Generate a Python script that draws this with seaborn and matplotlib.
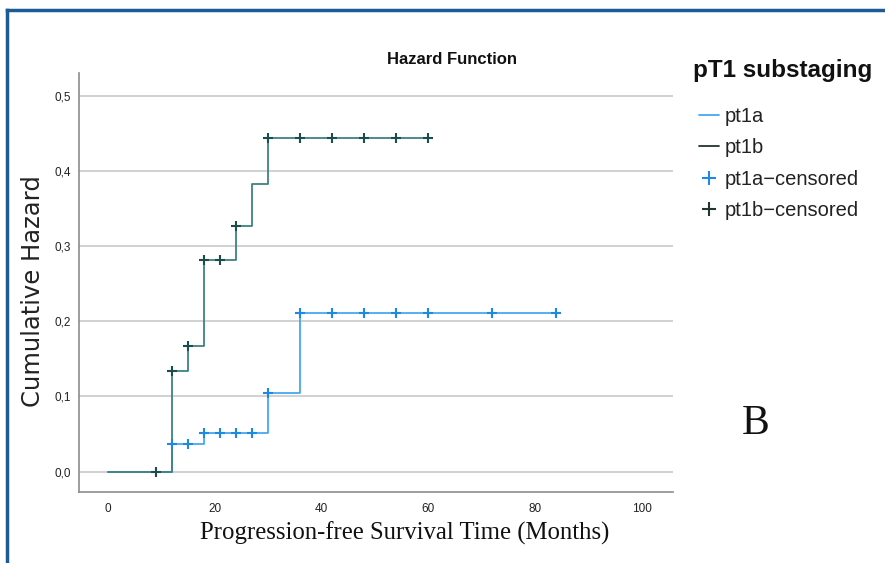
import numpy as np
import pandas as pd
import matplotlib
matplotlib.use("Agg")
import matplotlib.pyplot as plt
from matplotlib.lines import Line2D
import seaborn as sns

# ---- data ----
times_a = [0, 12, 18, 30, 36, 84]
haz_a = [0.0, 0.037, 0.052, 0.105, 0.211, 0.211]
times_b = [0, 12, 15, 18, 24, 27, 30, 60]
haz_b = [0.0, 0.134, 0.167, 0.281, 0.327, 0.383, 0.444, 0.444]
cens_t_a = [12, 15, 18, 21, 24, 27, 30, 36, 42, 48, 54, 60, 72, 84]
cens_h_a = [0.037, 0.037, 0.052, 0.052, 0.052, 0.052, 0.105, 0.211, 0.211, 0.211, 0.211, 0.211, 0.211, 0.211]
cens_t_b = [9, 12, 15, 18, 21, 24, 30, 36, 42, 48, 54, 60]
cens_h_b = [0.0, 0.134, 0.167, 0.281, 0.281, 0.327, 0.444, 0.444, 0.444, 0.444, 0.444, 0.444]
x_ticks = [0, 20, 40, 60, 80, 100]
y_ticks = [0.0, 0.1, 0.2, 0.3, 0.4, 0.5]
y_ticklabels = ["0,0", "0,1", "0,2", "0,3", "0,4", "0,5"]
legend_labels = ["pt1a", "pt1b", "pt1a\u2212censored", "pt1b\u2212censored"]

col_a_line = "#45A8F0"
col_a_mark = "#1E88E5"
col_b_line = "#3E8282"
col_b_mark = "#1C4D4D"
col_b_leg = "#22352F"

sns.set_theme(style="white")
plt.rcParams["font.family"] = ["Liberation Sans", "DejaVu Sans"]

fig = plt.figure(figsize=(8.85, 5.63), dpi=100)
ax = fig.add_axes([79 / 885, 1 - 492 / 563, (673 - 79) / 885, (492 - 73) / 563])

df_a = pd.DataFrame({"t": times_a, "h": haz_a})
df_b = pd.DataFrame({"t": times_b, "h": haz_b})
sns.lineplot(data=df_a, x="t", y="h", ax=ax, color=col_a_line, lw=1.3,
             drawstyle="steps-post", estimator=None, sort=False, zorder=3)
sns.lineplot(data=df_b, x="t", y="h", ax=ax, color=col_b_line, lw=1.3,
             drawstyle="steps-post", estimator=None, sort=False, zorder=4)
sns.scatterplot(x=cens_t_a, y=cens_h_a, ax=ax, marker="+", s=45,
                color=col_a_mark, linewidth=1.5, zorder=5)
sns.scatterplot(x=cens_t_b, y=cens_h_b, ax=ax, marker="+", s=45,
                color=col_b_mark, linewidth=1.5, zorder=6)

ax.set_xlim(-5.4, 105.9)
ax.set_ylim(-0.027, 0.530)
ax.set_xticks(x_ticks)
ax.set_xticklabels([str(v) for v in x_ticks])
ax.set_yticks(y_ticks)
ax.set_yticklabels(y_ticklabels)
ax.tick_params(axis="both", length=0, labelsize=8.5, colors="#222222")
ax.tick_params(axis="x", pad=8)
ax.tick_params(axis="y", pad=6)
ax.yaxis.grid(True, color="#C9C9C9", lw=1.2)
ax.xaxis.grid(False)
for s in ["top", "right"]:
    ax.spines[s].set_visible(False)
for s in ["left", "bottom"]:
    ax.spines[s].set_color("#8C8C8C")
    ax.spines[s].set_linewidth(1.2)
ax.set_xlabel("")
ax.set_ylabel("")

# titles / labels
fig.text(452 / 885, 1 - 60 / 563, "Hazard Function", ha="center", va="center",
         fontsize=12, fontweight="bold", color="#111111")
fig.text(33 / 885, 1 - 291 / 563, "Cumulative Hazard", rotation=90, ha="center",
         va="center", fontsize=17.5, family="DejaVu Sans", color="#222222")
fig.text(405 / 885, 1 - 533 / 563, "Progression-free Survival Time (Months)",
         ha="center", va="center", fontsize=17.8, family="Liberation Serif", color="#111111")
fig.text(756 / 885, 1 - 424 / 563, "B", ha="center", va="center",
         fontsize=30, family="Liberation Serif", color="#111111")

# legend
handles = [
    Line2D([], [], color=col_a_line, lw=1.3),
    Line2D([], [], color=col_b_leg, lw=1.3),
    Line2D([], [], color=col_a_mark, lw=0, marker="+", markersize=10, mew=1.5),
    Line2D([], [], color=col_b_leg, lw=0, marker="+", markersize=10, mew=1.5),
]
fig.text(693 / 885, 1 - 70 / 563, "pT1 substaging", ha="left", va="center",
         fontsize=17.5, fontweight="bold", color="#111111")
leg = fig.legend(handles, legend_labels, loc="upper left",
                 bbox_to_anchor=(699 / 885, 1 - 107 / 563), frameon=False,
                 fontsize=14.5, handlelength=1.0, handletextpad=0.3,
                 labelspacing=0.62, borderaxespad=0, borderpad=0)
for t in leg.get_texts():
    t.set_color("#222222")

# blue frame
fig.add_artist(Line2D([6.5 / 885, 6.5 / 885], [0, 1 - 10 / 563], transform=fig.transFigure,
                      color="#1D5B96", lw=2.5, solid_capstyle="projecting"))
fig.add_artist(Line2D([6.5 / 885, 1], [1 - 10 / 563, 1 - 10 / 563], transform=fig.transFigure,
                      color="#1D5B96", lw=2.5, solid_capstyle="projecting"))

fig.savefig("out.png", dpi=100)
